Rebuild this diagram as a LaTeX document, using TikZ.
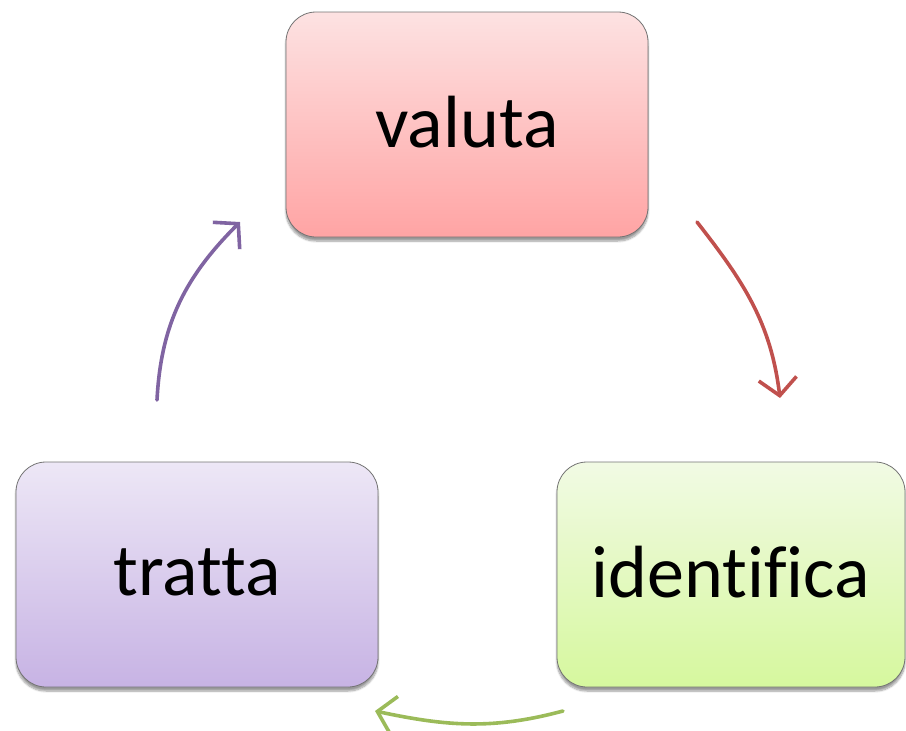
\documentclass[tikz,border=0pt]{standalone}
\usepackage{fontspec}
\setmainfont{Carlito}[Ligatures=NoCommon]
\usetikzlibrary{arrows.meta, shadows.blur}

\begin{document}
\begin{tikzpicture}[x=1pt, y=-1pt,
  box/.style={rectangle, rounded corners=30pt, draw=black!55, line width=0.8pt,
    minimum width=362pt, minimum height=225pt, inner sep=0pt,
    blur shadow={shadow xshift=0pt, shadow yshift=-4pt, shadow blur steps=8, shadow opacity=40},
    font=\fontsize{74}{80}\selectfont},
  cyc/.style={line width=3.6pt, line cap=round, -{Straight Barb[length=17pt, width=38pt, line width=3.6pt]}}]
  \definecolor{offred}{RGB}{192,80,77}
  \definecolor{offgreen}{RGB}{155,187,89}
  \definecolor{offpurple}{RGB}{128,100,162}
  \useasboundingbox (0,0) rectangle (906,731);

  \node[box, top color={rgb,255:red,253;green,226;blue,226}, bottom color={rgb,255:red,255;green,164;blue,164}] (valuta) at (467,124.5) {\raisebox{5pt}{valuta}};
  \node[box, minimum width=348pt, top color={rgb,255:red,241;green,250;blue,228}, bottom color={rgb,255:red,214;green,248;blue,158}] (identifica) at (731,574.5) {\raisebox{5pt}{identifica}};
  \node[box, top color={rgb,255:red,237;green,231;blue,246}, bottom color={rgb,255:red,199;green,179;blue,228}] (tratta) at (197,574.5) {\raisebox{5pt}{tratta}};

  \coordinate (r1) at (697,222);
  \coordinate (r2) at (780,398);
  \coordinate (g1) at (563,711);
  \coordinate (g2) at (375,711);
  \coordinate (p1) at (157,400);
  \coordinate (p2) at (240,222);

  \draw[cyc, offred] (r1) to[out=-52, in=97] (r2);
  \draw[cyc, offgreen] (g1) to[out=195, in=-12] (g2);
  \draw[cyc, offpurple] (p1) to[out=87, in=225] (p2);
\end{tikzpicture}
\end{document}
